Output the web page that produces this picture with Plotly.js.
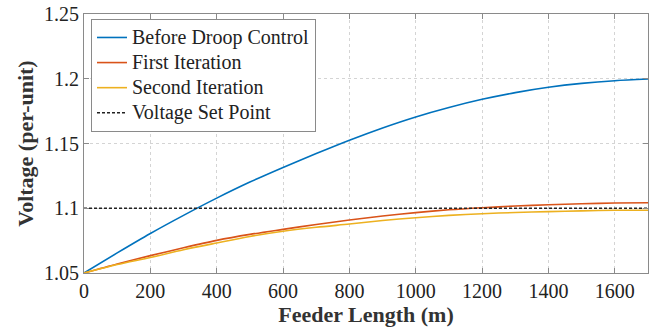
<!DOCTYPE html>
<html><head><meta charset="utf-8">
<script src="https://cdn.plot.ly/plotly-3.0.1.min.js"></script>
<style>html,body{margin:0;padding:0;background:#fff}#chart{width:662px;height:327px}</style>
</head><body><div id="chart"></div>
<script>
const feederLength = [0,100,200,300,400,500,600,700,800,900,1000,1100,1200,1300,1400,1500,1600,1700];
const beforeDroop = [1.05,1.0655,1.0805,1.0945,1.1078,1.1202,1.1315,1.1422,1.1525,1.162,1.1705,1.1778,1.1841,1.1893,1.1934,1.1964,1.1985,1.1998];
const firstIter = [1.05,1.057,1.0634,1.0695,1.0752,1.0798,1.0837,1.0875,1.0909,1.094,1.0966,1.0988,1.1004,1.1017,1.1027,1.1035,1.104,1.1042];
const secondIter = [1.05,1.0565,1.062,1.068,1.0732,1.0782,1.0822,1.0853,1.0878,1.0905,1.0927,1.0945,1.0958,1.0967,1.0974,1.098,1.0984,1.0985];
const setPointX = [0,1700];
const setPointY = [1.1,1.1];
const seriesNames = ["Before Droop Control","First Iteration","Second Iteration","Voltage Set Point"];
const yTickVals = [1.05,1.1,1.15,1.2,1.25];
const yTickText = ["1.05","1.1","1.15","1.2","1.25"];
const xTickVals = [0,200,400,600,800,1000,1200,1400,1600];

const font = "Liberation Serif";
const lbl = s => '<span style="font-size:20px">' + s + '</span>';
const traces = [
  {x:feederLength,y:beforeDroop,mode:'lines',name:lbl(seriesNames[0]),line:{color:'#0072BD',width:1.6,shape:'spline',smoothing:0.8}},
  {x:feederLength,y:firstIter,mode:'lines',name:lbl(seriesNames[1]),line:{color:'#D95319',width:1.6,shape:'spline',smoothing:0.8}},
  {x:feederLength,y:secondIter,mode:'lines',name:lbl(seriesNames[2]),line:{color:'#EDB120',width:1.6,shape:'spline',smoothing:0.8}},
  {x:setPointX,y:setPointY,mode:'lines',name:lbl(seriesNames[3]),line:{color:'#222',width:1.4,dash:'3px,2px'}}
];
const axisCommon = {showline:true,linecolor:'#8a8a8a',linewidth:1,mirror:'ticks',ticks:'inside',ticklen:5,tickcolor:'#8a8a8a',
  showgrid:true,gridcolor:'#d4d4d4',griddash:'dot',gridwidth:1,zeroline:false,tickfont:{family:font,size:20,color:'#222'}};
const layout = {
  width:662,height:327,margin:{l:84,r:14,t:14,b:54},
  paper_bgcolor:'#fff',plot_bgcolor:'#fff',
  font:{family:font,color:'#222'},
  xaxis:Object.assign({},axisCommon,{range:[0,1700],tickvals:xTickVals,
    title:{text:'<b>Feeder Length (m)</b>',font:{family:font,size:22,color:'#333'},standoff:0}}),
  yaxis:Object.assign({},axisCommon,{range:[1.05,1.25],tickvals:yTickVals,ticktext:yTickText,
    title:{text:'<b>Voltage (per-unit)</b>',font:{family:font,size:22,color:'#333'},standoff:4}}),
  showlegend:true,
  legend:{x:0.0124,y:0.981,xanchor:'left',yanchor:'top',bgcolor:'#fff',bordercolor:'#8a8a8a',borderwidth:1,
    font:{family:font,size:17,color:'#222'},itemwidth:30,tracegroupgap:0}
};
Plotly.newPlot('chart',traces,layout,{displayModeBar:false,staticPlot:true});
</script></body></html>
